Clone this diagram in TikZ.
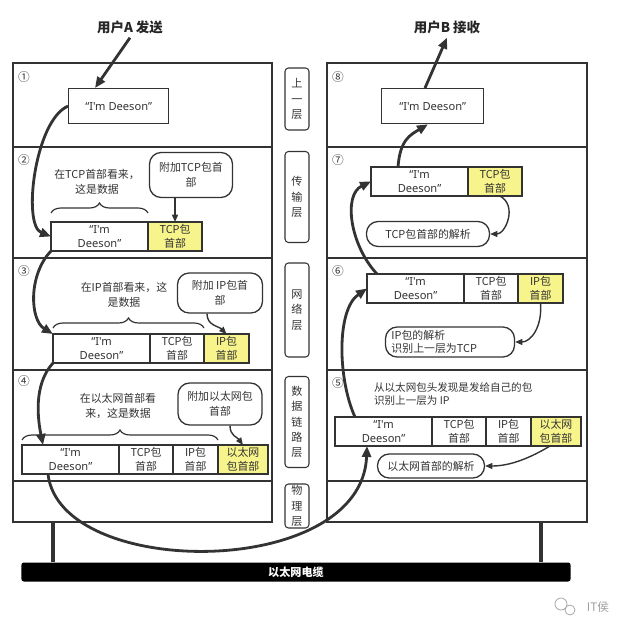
\documentclass[tikz,border=0pt]{standalone}
\usepackage{fontspec}
\setmainfont{Noto Sans CJK SC}
\newfontfamily\latfont{Noto Sans}
\usetikzlibrary{arrows.meta,positioning,calc,decorations.pathreplacing}
\definecolor{inkcol}{HTML}{333333}
\definecolor{hdrcol}{HTML}{F8F48C}
\definecolor{markcol}{HTML}{A0A0A0}

\begin{document}
\begin{tikzpicture}[x=0.03cm, y=-0.03cm,
  every node/.style={text=inkcol, font=\fontsize{9.3}{12.5}\selectfont},
  frame/.style={draw=inkcol, line width=1.1pt},
  cell/.style={draw=inkcol, line width=1.1pt, minimum height=0.87cm,
               inner sep=0pt, outer sep=0pt, align=center},
  msg/.style={cell, minimum width=2.91cm, font=\latfont\fontsize{9.5}{12.5}\selectfont},
  tcp/.style={cell, minimum width=1.62cm},
  ip/.style={cell, minimum width=1.35cm},
  eth/.style={cell, minimum width=1.5cm},
  hdr/.style={fill=hdrcol},
  solo/.style={draw=inkcol, line width=1.1pt, minimum width=3cm, minimum height=1.05cm,
               font=\latfont\fontsize{9.5}{12.5}\selectfont},
  layer/.style={draw=inkcol, line width=0.9pt, rounded corners=3pt,
                minimum width=0.72cm, inner sep=0pt, align=center,
                font=\fontsize{9.5}{13}\selectfont},
  bubble/.style={draw=inkcol, line width=1.1pt, rounded corners=0.35cm,
                 inner sep=2pt, align=center},
  note/.style={align=center},
  num/.style={font=\fontsize{10}{11}\selectfont},
  title/.style={text=black!85, font=\fontsize{11.5}{14}\selectfont\bfseries},
  flow/.style={draw=inkcol, line width=2.4pt, -{Triangle[length=0.33cm, width=0.27cm]}},
  tip/.style={draw=inkcol, line width=1.2pt, -{Triangle[length=0.22cm, width=0.18cm]}},
  brc/.style={draw=inkcol, line width=1pt, decorate, decoration={brace, amplitude=0.3cm}},
  post/.style={draw=inkcol, line width=3.2pt},
  cable/.style={fill=black, rounded corners=2pt, minimum width=16.47cm,
                minimum height=0.57cm, text=white,
                font=\fontsize{9.5}{11}\selectfont\bfseries}
]
  \useasboundingbox (0,0) rectangle (631,634);

  % the two protocol stacks
  \foreach \ya/\yb in {63/147, 147/258, 258/370, 370/481, 481/522} {
    \draw[frame] (13,\ya) rectangle (272,\yb);
    \draw[frame] (327,\ya) rectangle (587,\yb);
  }

  % layer names
  \node[layer, minimum height=1.86cm] (lyApp)  at (297,99)  {上\\一\\层};
  \node[layer, minimum height=2.73cm] (lyTcp)  at (297,197) {传\\输\\层};
  \node[layer, minimum height=2.82cm] (lyIp)   at (297,310) {网\\络\\层};
  \node[layer, minimum height=2.73cm] (lyLink) at (297,422) {数\\据\\链\\路\\层};
  \node[layer, minimum height=1.32cm] (lyPhy)  at (297,506) {物\\理\\层};

  % step numbers
  \node[num] (nA1) at (24,77)  {①};
  \node[num] (nA2) at (24,160) {②};
  \node[num] (nA3) at (24,271) {③};
  \node[num] (nA4) at (24,381) {④};
  \node[num] (nB5) at (338,383) {⑤};
  \node[num] (nB6) at (338,271) {⑥};
  \node[num] (nB7) at (338,160) {⑦};
  \node[num] (nB8) at (338,77)  {⑧};

  \node[title] (titleA) at (130,27) {用户A 发送};
  \node[title] (titleB) at (447,27) {用户B 接收};

  % sender side
  \node[solo, anchor=north west] (msgA1) at (68,88) {“I'm Deeson”};

  \node[msg, anchor=north west] (msgA2) at (51,222) {“I'm\\Deeson”};
  \node[tcp, hdr, right=0pt of msgA2] (tcpA2) {TCP包\\首部};

  \node[msg, anchor=north west] (msgA3) at (53,334) {“I'm\\Deeson”};
  \node[tcp, right=0pt of msgA3] (tcpA3) {TCP包\\首部};
  \node[ip, hdr, right=0pt of tcpA3] (ipA3) {IP包\\首部};

  \node[msg, anchor=north west] (msgA4) at (22,445) {“I'm\\Deeson”};
  \node[tcp, right=0pt of msgA4] (tcpA4) {TCP包\\首部};
  \node[ip, right=0pt of tcpA4] (ipA4) {IP包\\首部};
  \node[eth, hdr, right=0pt of ipA4] (ethA4) {以太网\\包首部};

  \draw[brc] ([yshift=0.27cm]msgA2.north west) -- ([yshift=0.27cm]msgA2.north east);
  \draw[brc] ([yshift=0.18cm]msgA3.north west) -- ([yshift=0.18cm]tcpA3.north east);
  \draw[brc] ([yshift=0.15cm]msgA4.north west) -- ([yshift=0.15cm]ipA4.north east);

  \node[note] (noteA2) at (97,182) {在TCP首部看来，\\这是数据};
  \node[note] (noteA3) at (124,295) {在IP首部看来，这\\是数据};
  \node[note] (noteA4) at (118,406) {在以太网首部看\\来，这是数据};

  \node[bubble, minimum width=2.49cm, minimum height=1.35cm] (addA2) at (191,175) {附加TCP包首\\部};
  \node[bubble, minimum width=2.55cm, minimum height=1.2cm] (addA3) at (220,293) {附加 IP包首\\部};
  \node[bubble, minimum width=2.52cm, minimum height=1.26cm] (addA4) at (220,404) {附加以太网包\\首部};

  \draw[tip] (addA2.south -| tcpA2.north) -- (tcpA2.north);
  \draw[tip] ([xshift=-0.39cm]addA3.south) .. controls +(0,12) and +(-8,-8) .. (ipA3.north);
  \draw[tip] ([xshift=0.3cm]addA4.south) .. controls +(0,10) and +(-6,-8) .. (ethA4.north);

  % receiver side
  \node[solo, minimum width=3.06cm, anchor=north west] (msgB8) at (381,88) {“I'm Deeson”};

  \node[msg, anchor=north west] (msgB7) at (371,167) {“I'm\\Deeson”};
  \node[tcp, hdr, right=0pt of msgB7] (tcpB7) {TCP包\\首部};

  \node[msg, anchor=north west] (msgB6) at (367,274) {“I'm\\Deeson”};
  \node[tcp, right=0pt of msgB6] (tcpB6) {TCP包\\首部};
  \node[ip, hdr, right=0pt of tcpB6] (ipB6) {IP包\\首部};

  \node[msg, anchor=north west] (msgB5) at (335,417) {“I'm\\Deeson”};
  \node[tcp, right=0pt of msgB5] (tcpB5) {TCP包\\首部};
  \node[ip, right=0pt of tcpB5] (ipB5) {IP包\\首部};
  \node[eth, hdr, right=0pt of ipB5] (ethB5) {以太网\\包首部};

  \node[align=left, anchor=west, font=\fontsize{9}{11}\selectfont] (noteB5) at (370,394)
    {从以太网包头发现是发给自己的包\\识别上一层为 IP};

  \node[bubble, minimum width=3.69cm, minimum height=0.75cm] (parseB7) at (428,234) {TCP包首部的解析};
  \node[bubble, align=left, text width=3.51cm, inner xsep=0.18cm, inner ysep=1pt,
        minimum height=0.9cm, font=\fontsize{9.3}{11}\selectfont] (parseB6) at (450,342)
    {IP包的解析\\识别上一层为TCP};
  \node[bubble, minimum width=3.21cm, minimum height=0.72cm] (parseB5) at (431,466) {以太网首部的解析};

  \draw[tip] ([xshift=0.15cm]tcpB7.south) .. controls +(18,10) and +(15,0) .. (parseB7.east);
  \draw[tip] (ipB6.south) .. controls +(2,25) and +(15,0) .. (parseB6.east);
  \draw[tip] ([xshift=-0.18cm]ethB5.south) .. controls +(-20,12) and +(25,0) .. (parseB5.east);

  % path of the data
  \draw[flow] (titleA.south) -- ([xshift=0.81cm]msgA1.north west);
  \draw[flow] (msgA1.west) .. controls (35,120) and (22,225) .. (msgA2.west);
  \draw[flow] (msgA2.south west) .. controls (28,275) and (30,320) .. (msgA3.north west);
  \draw[flow] (msgA3.south west) .. controls (33,385) and (38,420) .. ([xshift=0.63cm]msgA4.north west);
  \draw[flow] ([xshift=0.78cm]msgA4.south west) .. controls (60,580) and (362,580) .. ([xshift=0.96cm]msgB5.south west);
  \draw[flow] ([xshift=0.6cm]msgB5.north west) .. controls (338,380) and (336,310) .. (msgB6.west);
  \draw[flow] ([xshift=0.3cm]msgB6.north west) .. controls (350,245) and (343,195) .. (msgB7.west);
  \draw[flow] ([xshift=0.81cm]msgB7.north west) .. controls (400,140) and (410,135) .. ([xshift=1.41cm]msgB8.south west);
  \draw[flow] ([xshift=1.32cm]msgB8.north west) -- (titleB.south);

  % cable
  \node[cable] (cable) at (296,572) {以太网电缆};
  \coordinate (postL) at (53,522);
  \coordinate (postR) at (541,522);
  \draw[post] (postL) -- (postL |- cable.north);
  \draw[post] (postR) -- (postR |- cable.north);

  % mark
  \draw[markcol, line width=0.6pt] (561,604) circle[radius=0.18cm] (570,610) circle[radius=0.15cm];
  \node[text=markcol, font=\fontsize{10}{12}\selectfont] (mark) at (598,607) {IT侯};
\end{tikzpicture}
\end{document}
